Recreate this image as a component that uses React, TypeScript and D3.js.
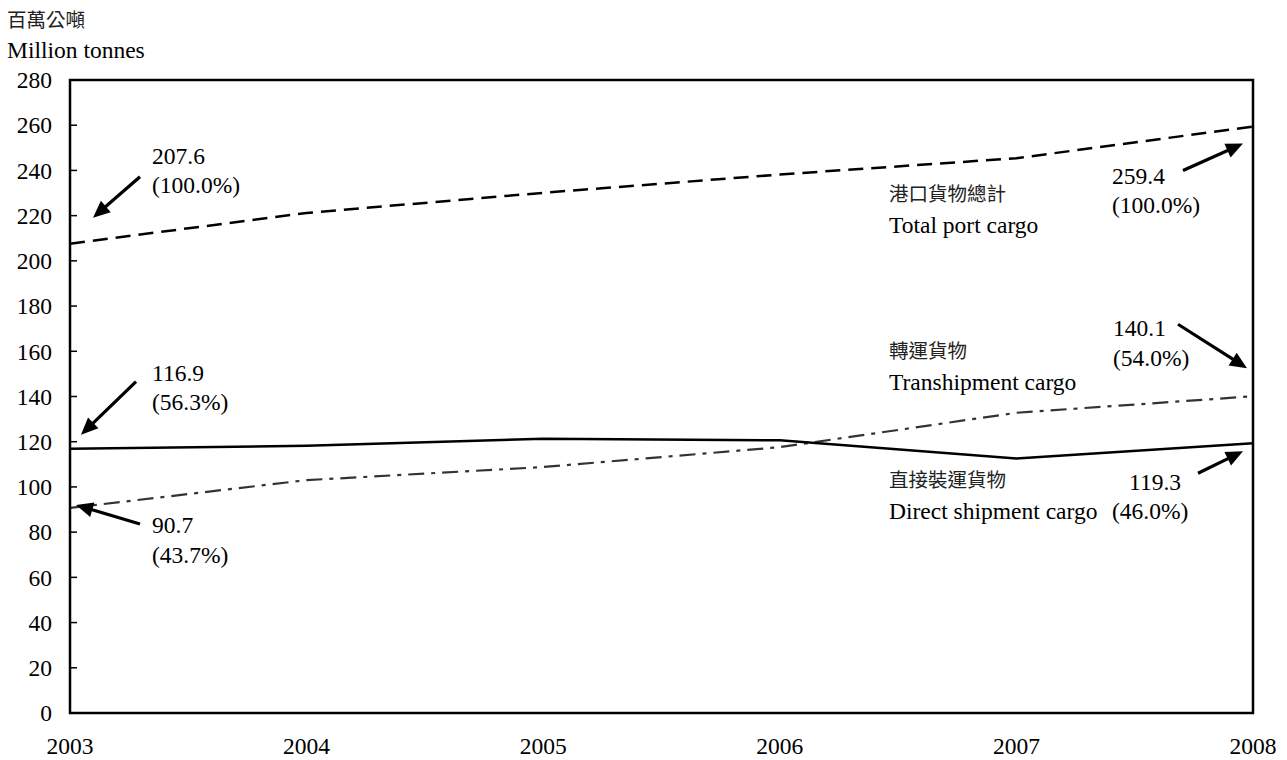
import React from "react";
import * as d3 from "d3";

const years = [2003, 2004, 2005, 2006, 2007, 2008];
const totalCargo = [207.6, 221.2, 230.1, 238.2, 245.4, 259.4];
const directCargo = [116.9, 118.2, 121.3, 120.6, 112.6, 119.3];
const tranCargo = [90.7, 103.0, 108.8, 117.6, 132.8, 140.1];
const yTicks = [0, 20, 40, 60, 80, 100, 120, 140, 160, 180, 200, 220, 240, 260, 280];

const W = 1287, H = 760;
const L = 70, R = 1253, T = 80, B = 713;
const LATIN = "Liberation Serif, Tinos, Times New Roman, DejaVu Serif, serif";
const CJK = "Noto Sans CJK TC, Noto Sans CJK SC, sans-serif";
const FS = 23.5;
const CFS = 19.5;

type Ann = { yi: number; series: number[]; v1: string; v2: string; tip: [number, number]; tail: [number, number]; tx: number; ty: number; tx2?: number };

const annotations: Ann[] = [
  { yi: 0, series: totalCargo, v1: "207.6", v2: "(100.0%)", tip: [23, -26], tail: [70, -67], tx: 82, ty: -88 },
  { yi: 0, series: directCargo, v1: "116.9", v2: "(56.3%)", tip: [11, -14], tail: [66, -67], tx: 82, ty: -76 },
  { yi: 0, series: tranCargo, v1: "90.7", v2: "(43.7%)", tip: [6, -3], tail: [70, 16], tx: 82, ty: 17 },
  { yi: 5, series: totalCargo, v1: "259.4", v2: "(100.0%)", tip: [-10, 17], tail: [-70, 44], tx: -141, ty: 49 },
  { yi: 5, series: tranCargo, v1: "140.1", v2: "(54.0%)", tip: [-6, -28], tail: [-75, -72], tx: -140, ty: -68 },
  { yi: 5, series: directCargo, v1: "119.3", v2: "(46.0%)", tip: [-10, 8], tail: [-55, 30], tx: -124, ty: 38, tx2: -141 },
];

export default function App() {
  const x = d3.scaleLinear().domain([2003, 2008]).range([L, R]);
  const y = d3.scaleLinear().domain([0, 280]).range([B, T]);
  const line = (vals: number[]) =>
    d3.line<number>().x((_, i) => x(years[i])).y((d) => y(d))(vals) || "";

  const arrow = (a: Ann, k: number) => {
    const px = x(years[a.yi]);
    const py = y(a.series[a.yi]);
    const tipX = px + a.tip[0], tipY = py + a.tip[1];
    const tailX = px + a.tail[0], tailY = py + a.tail[1];
    const ang = Math.atan2(tipY - tailY, tipX - tailX);
    const hl = 17, hw = 7.5;
    const bx = tipX - hl * Math.cos(ang), by = tipY - hl * Math.sin(ang);
    const nx = -Math.sin(ang), ny = Math.cos(ang);
    const head = `M${tipX},${tipY}L${bx + nx * hw},${by + ny * hw}L${bx - nx * hw},${by - ny * hw}Z`;
    const tx = px + a.tx, ty = py + a.ty;
    const tx2 = px + (a.tx2 ?? a.tx);
    return (
      <g key={k}>
        <line x1={tailX} y1={tailY} x2={bx + 2 * Math.cos(ang)} y2={by + 2 * Math.sin(ang)} stroke="#000" strokeWidth={3.2} />
        <path d={head} fill="#000" />
        <text x={tx} y={ty} dy="0.35em" fontFamily={LATIN} fontSize={FS}>{a.v1}</text>
        <text x={tx2} y={ty + 29.5} dy="0.35em" fontFamily={LATIN} fontSize={FS}>{a.v2}</text>
      </g>
    );
  };

  const seriesLabels = [
    { cn: "港口貨物總計", en: "Total port cargo", cy: 194 },
    { cn: "轉運貨物", en: "Transhipment cargo", cy: 351 },
    { cn: "直接裝運貨物", en: "Direct shipment cargo", cy: 480 },
  ];

  return (
    <svg width={W} height={H} style={{ position: "absolute", left: 0, top: 0, background: "#fff" }}>
      <rect x={0} y={0} width={W} height={H} fill="#fff" />
      <text x={7} y={20} dy="0.35em" fontFamily={CJK} fontSize={CFS} fill="#222">百萬公噸</text>
      <text x={7} y={50} dy="0.35em" fontFamily={LATIN} fontSize={FS}>Million tonnes</text>
      {yTicks.map((t) => (
        <g key={t}>
          <line x1={L} x2={L + 7} y1={y(t)} y2={y(t)} stroke="#000" strokeWidth={1.5} />
          <text x={52} y={y(t)} dy="0.35em" textAnchor="end" fontFamily={LATIN} fontSize={FS}>{t}</text>
        </g>
      ))}
      {years.map((yr) => (
        <text key={yr} x={x(yr)} y={746} dy="0.35em" textAnchor="middle" fontFamily={LATIN} fontSize={FS}>{yr}</text>
      ))}
      <path d={line(totalCargo)} fill="none" stroke="#000" strokeWidth={2.5} strokeDasharray="15,8" />
      <path d={line(tranCargo)} fill="none" stroke="#333" strokeWidth={2.2} strokeDasharray="16,7,4,7" />
      <path d={line(directCargo)} fill="none" stroke="#000" strokeWidth={2.5} />
      <rect x={L} y={T} width={R - L} height={B - T} fill="none" stroke="#000" strokeWidth={2.5} />
      {seriesLabels.map((s) => (
        <g key={s.en}>
          <text x={889} y={s.cy} dy="0.35em" fontFamily={CJK} fontSize={CFS} fill="#222">{s.cn}</text>
          <text x={889} y={s.cy + 31} dy="0.35em" fontFamily={LATIN} fontSize={FS}>{s.en}</text>
        </g>
      ))}
      {annotations.map(arrow)}
    </svg>
  );
}
